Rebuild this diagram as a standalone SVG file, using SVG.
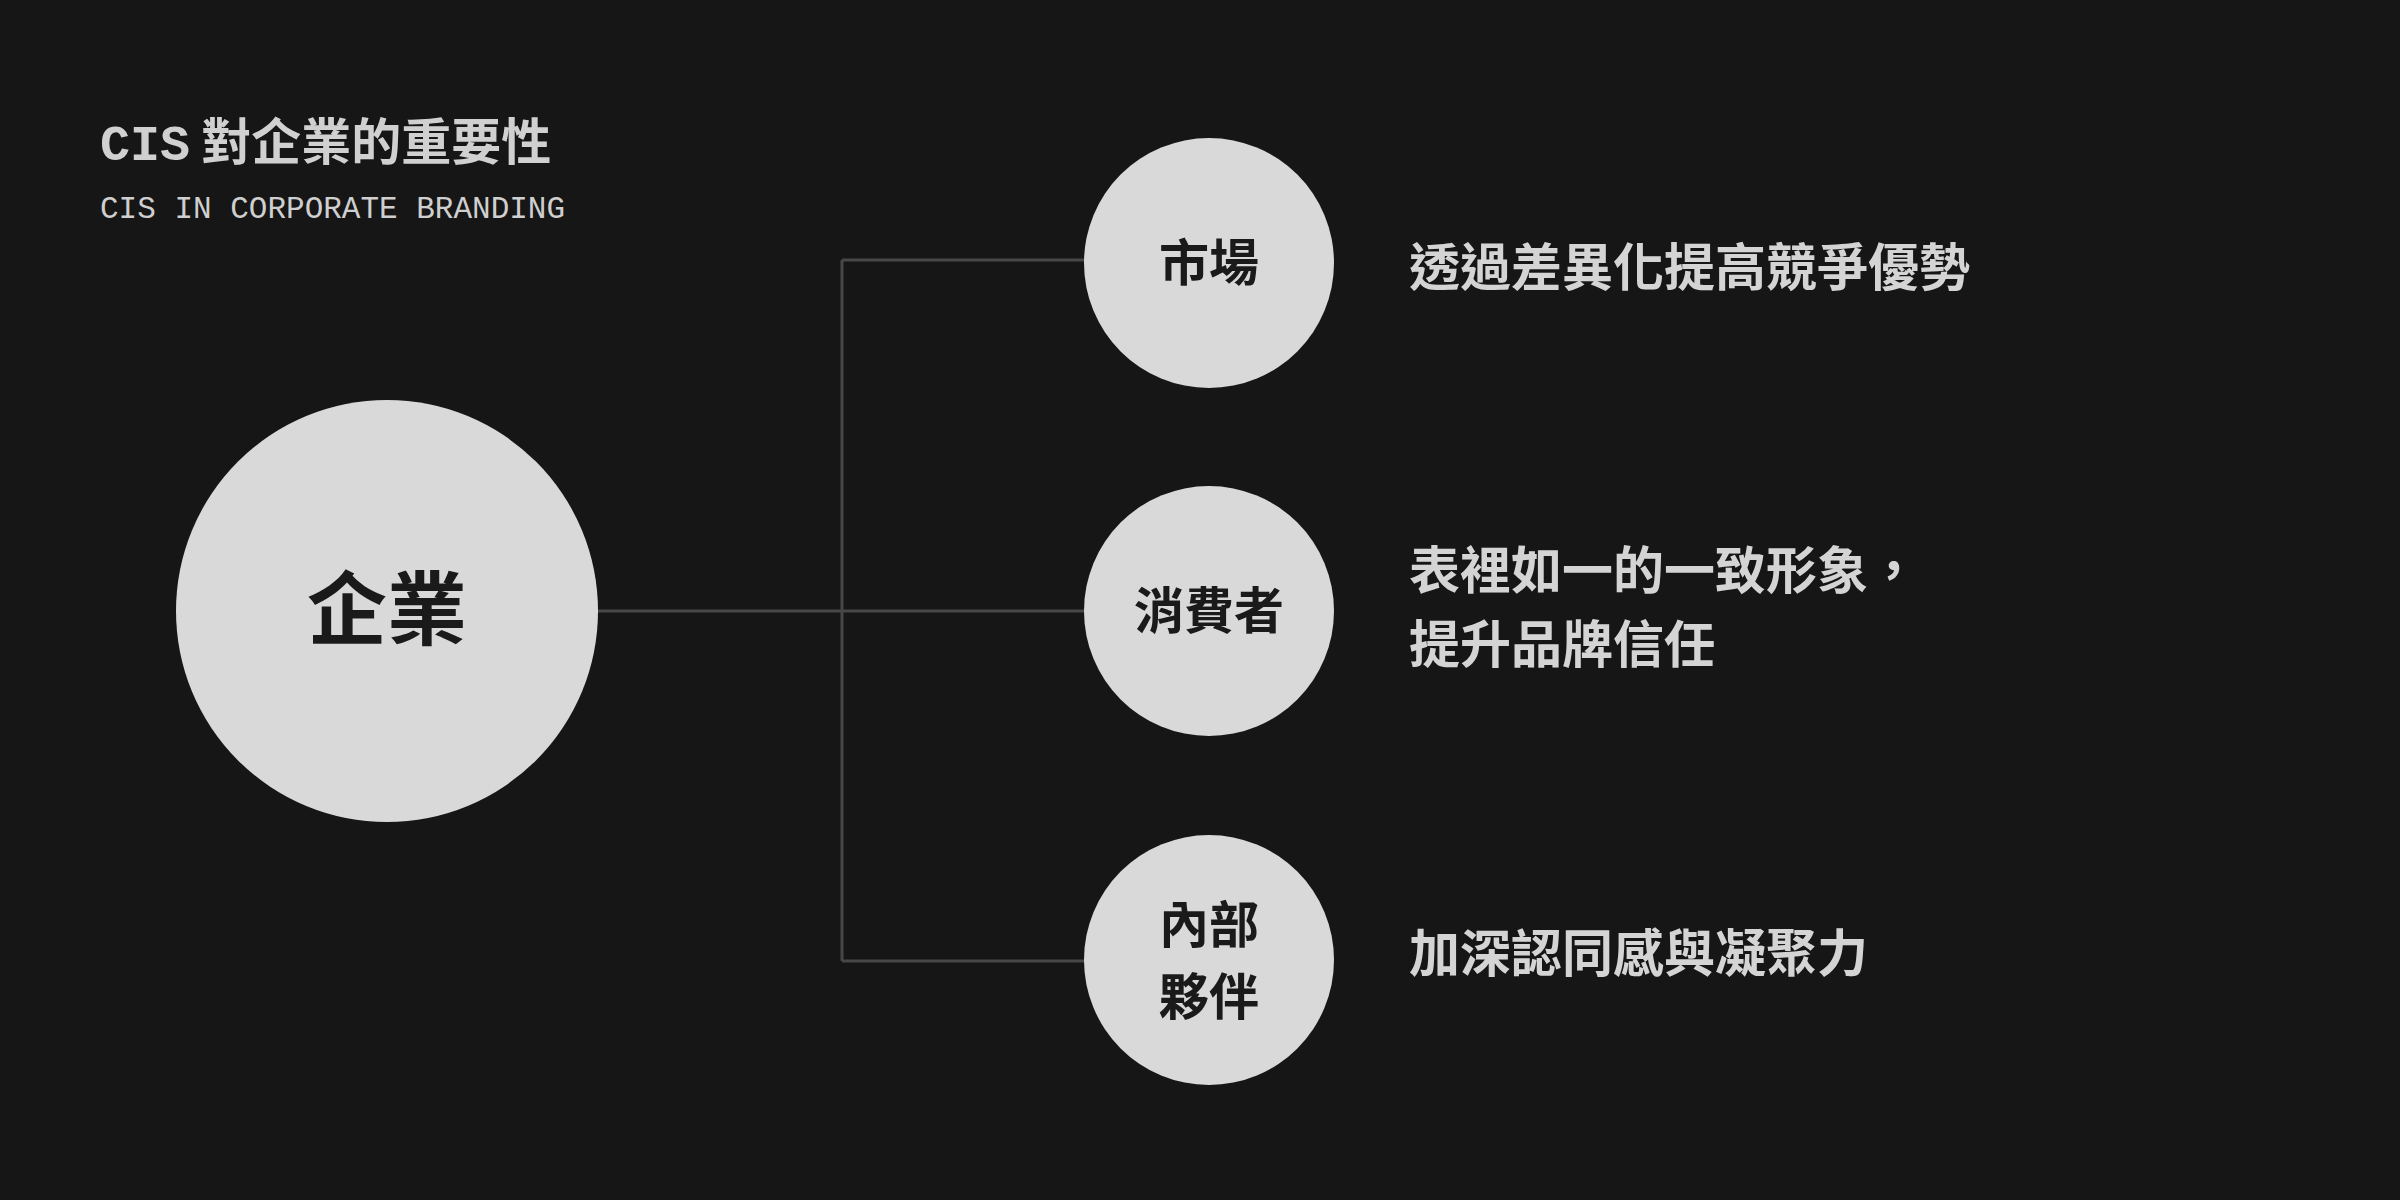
<svg xmlns="http://www.w3.org/2000/svg" width="2400" height="1200" viewBox="0 0 2400 1200">
<style>
.cj{font-family:"Noto Sans CJK TC","Noto Sans CJK SC",sans-serif;font-weight:700}
.lbl{fill:#1a1a1a;text-anchor:middle}
.desc{fill:#d4d4d4;font-size:51px}
.c{fill:#d9d9d9}
.ln{stroke:#474747;stroke-width:3;fill:none}
</style>
<rect width="2400" height="1200" fill="#161616"/>
<g id="title">
<text x="100" y="160" class="cj" font-size="50" fill="#d0d0d0"><tspan font-family="Liberation Mono,monospace">CIS</tspan> 對企業的重要性</text>
<text x="100" y="218" font-family="Liberation Mono,monospace" font-size="31" fill="#cfcfcf">CIS IN CORPORATE BRANDING</text>
</g>
<g id="connectors">
<path class="ln" d="M598 611H1085M842 260V961M842 260H1085M842 961H1085"/>
</g>
<g id="enterprise"><circle class="c" cx="387" cy="611" r="211"/><text x="387" y="638" class="cj lbl" font-size="80">企業</text></g>
<g id="market"><circle class="c" cx="1209" cy="263" r="125"/><text x="1209" y="281" class="cj lbl" font-size="50">市場</text></g>
<g id="consumer"><circle class="c" cx="1209" cy="611" r="125"/><text x="1209" y="629" class="cj lbl" font-size="50">消費者</text></g>
<g id="partner"><circle class="c" cx="1209" cy="960" r="125"/><text x="1209" y="943" class="cj lbl" font-size="50">內部</text><text x="1209" y="1015" class="cj lbl" font-size="50">夥伴</text></g>
<g id="descs" class="cj">
<text x="1409" y="286" class="desc">透過差異化提高競爭優勢</text>
<text x="1409" y="589" class="desc">表裡如一的一致形象，</text>
<text x="1409" y="663" class="desc">提升品牌信任</text>
<text x="1409" y="972" class="desc">加深認同感與凝聚力</text>
</g>
</svg>
